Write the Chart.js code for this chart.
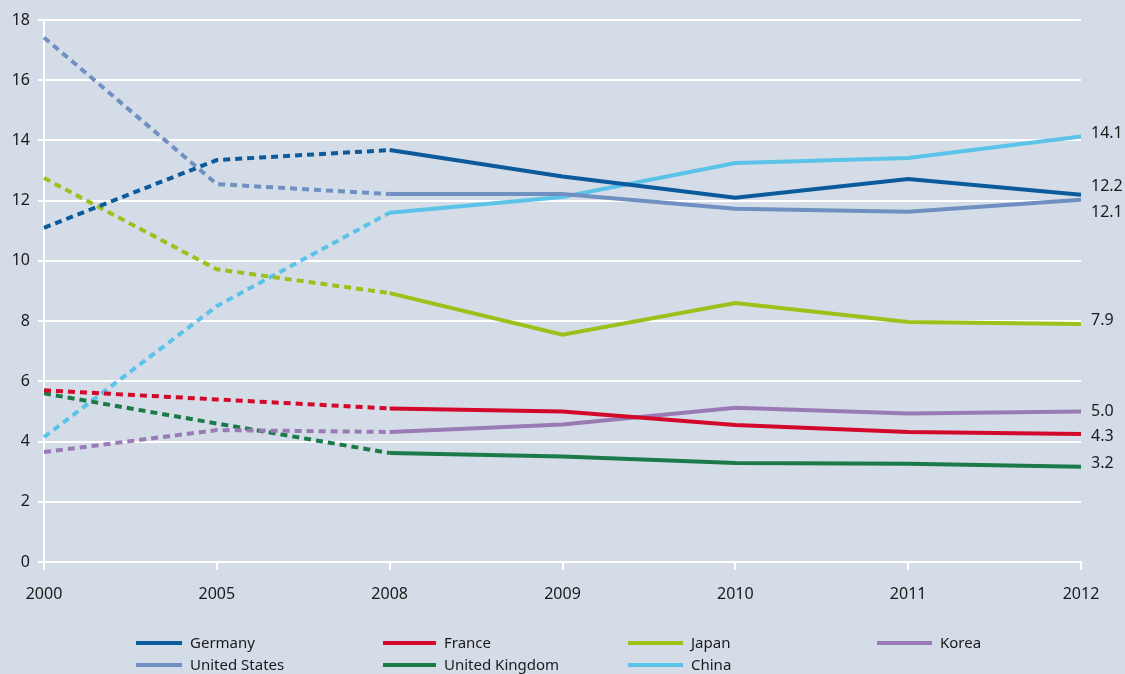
<!DOCTYPE html>
<html>
<head>
<meta charset="utf-8">
<script src="https://cdn.jsdelivr.net/npm/chart.js@4/dist/chart.umd.min.js"></script>
<style>
  html, body { margin: 0; padding: 0; background: #d4dce8; }
  #wrap { width: 1125px; height: 674px; position: relative; }
</style>
</head>
<body>
<div id="wrap"><canvas id="chart"></canvas></div>
<script>
// years on the x axis (category spacing, not to scale)
var years = ['2000', '2005', '2008', '2009', '2010', '2011', '2012'];

var germany = [11.1, 13.35, 13.68, 12.8, 12.1, 12.72, 12.2];
var france  = [5.7, 5.4, 5.1, 5.0, 4.55, 4.32, 4.25];
var japan   = [12.75, 9.72, 8.93, 7.55, 8.6, 7.97, 7.9];
var korea   = [3.65, 4.38, 4.32, 4.57, 5.12, 4.93, 5.0];
var usa     = [17.42, 12.55, 12.22, 12.22, 11.73, 11.63, 12.03];
var uk      = [5.6, 4.6, 3.62, 3.5, 3.29, 3.26, 3.16];
var china   = [4.15, 8.5, 11.6, 12.12, 13.25, 13.42, 14.13];

var seriesNames = ['Germany', 'France', 'Japan', 'Korea', 'United States', 'United Kingdom', 'China'];
var endLabels = ['12.2', '4.3', '7.9', '5.0', '12.1', '3.2', '14.1'];
var yTicks = [0, 2, 4, 6, 8, 10, 12, 14, 16, 18];

var colors = ['#0b5a9c', '#d2092b', '#9bc11a', '#9a7ab4', '#7090c2', '#1b7a48', '#5bc3e8'];
// small vertical nudges so the end labels don't collide
var labelNudge = [-8, 2, -4, 0, 13, -3, -3];

var allData = [germany, france, japan, korea, usa, uk, china];

var datasets = allData.map(function (d, i) {
  return {
    label: seriesNames[i],
    data: d,
    borderColor: colors[i],
    backgroundColor: colors[i],
    borderWidth: 4,
    pointRadius: 0,
    tension: 0,
    fill: false,
    segment: {
      // estimates up to 2008 are dashed
      borderDash: function (ctx) { return ctx.p1DataIndex <= 2 ? [7, 5] : undefined; }
    }
  };
});

var extras = {
  id: 'extras',
  afterDraw: function (chart) {
    var c = chart.ctx;
    var area = chart.chartArea;
    c.save();
    c.font = '16px "Noto Sans", "DejaVu Sans", sans-serif';
    c.fillStyle = '#1a1a1a';
    c.textBaseline = 'middle';
    c.textAlign = 'left';
    chart.data.datasets.forEach(function (ds, i) {
      var meta = chart.getDatasetMeta(i);
      var last = meta.data[meta.data.length - 1];
      c.fillText(endLabels[i], area.right + 10, last.y + labelNudge[i]);
    });

    // legend grid, 4 columns
    var lineStart = [136, 383, 628, 877];
    var lineEnd = [182, 436, 683, 932];
    var rows = [643, 665];
    c.font = '15px "Noto Sans", "DejaVu Sans", sans-serif';
    chart.data.datasets.forEach(function (ds, i) {
      var col = i % 4;
      var y = rows[Math.floor(i / 4)];
      c.strokeStyle = ds.borderColor;
      c.lineWidth = 4;
      c.beginPath();
      c.moveTo(lineStart[col], y);
      c.lineTo(lineEnd[col], y);
      c.stroke();
      c.fillText(ds.label, lineEnd[col] + 8, y + 1);
    });
    c.restore();
  }
};

new Chart(document.getElementById('chart'), {
  type: 'line',
  data: { labels: years, datasets: datasets },
  options: {
    responsive: true,
    maintainAspectRatio: false,
    animation: false,
    layout: { padding: { top: 20, right: 44, bottom: 70, left: 0 } },
    plugins: { legend: { display: false }, tooltip: { enabled: false } },
    scales: {
      x: {
        offset: false,
        grid: { drawOnChartArea: false, drawTicks: true, tickLength: 8, color: '#ffffff', lineWidth: 2 },
        border: { color: '#ffffff', width: 2 },
        ticks: {
          color: '#1a1a1a',
          padding: 15,
          maxRotation: 0,
          autoSkip: false,
          font: { family: '"Noto Sans", "DejaVu Sans", sans-serif', size: 16 }
        },
        afterFit: function (scale) { scale.height = 42; }
      },
      y: {
        min: 0,
        max: 18,
        afterBuildTicks: function (scale) {
          scale.ticks = yTicks.map(function (v) { return { value: v }; });
        },
        grid: { color: '#ffffff', lineWidth: 2, tickLength: 6 },
        border: { color: '#ffffff', width: 2 },
        ticks: {
          color: '#1a1a1a',
          padding: 8,
          font: { family: '"Noto Sans", "DejaVu Sans", sans-serif', size: 16 }
        },
        afterFit: function (scale) { scale.width = 44; }
      }
    }
  },
  plugins: [extras]
});
</script>
</body>
</html>
